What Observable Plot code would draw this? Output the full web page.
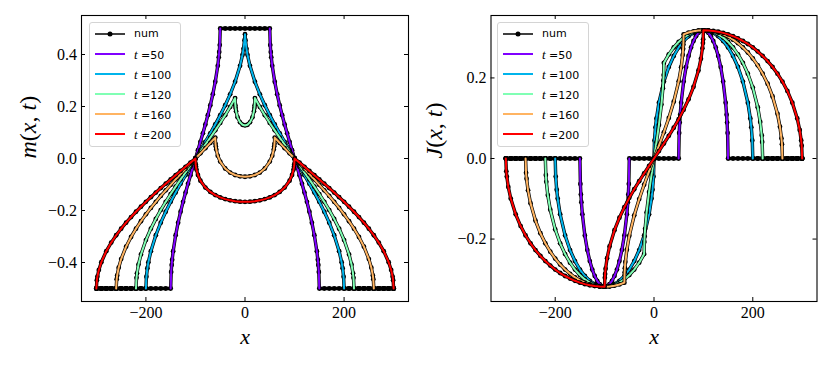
<!DOCTYPE html>
<html><head><meta charset="utf-8">
<script src="https://cdn.jsdelivr.net/npm/d3@7"></script>
<script src="https://cdn.jsdelivr.net/npm/@observablehq/plot@0.6"></script>
<style>
body{margin:0;background:#fff;}
#wrap{position:relative;width:830px;height:369px;overflow:hidden;background:#fff;}
.panel{position:absolute;top:0;}
.legend{position:absolute;width:92px;height:125px;border:1px solid #d4d4d4;border-radius:3px;background:rgba(255,255,255,0.85);box-sizing:border-box;}
.legend .row{position:absolute;left:0;width:90px;height:14px;}
.legend svg{position:absolute;left:4px;top:0;}
.legend span.lab{position:absolute;left:44px;top:0;font:11px "DejaVu Sans";line-height:14px;white-space:nowrap;color:#000;}
.legend i{font:italic 13px "Liberation Serif";}
</style></head><body><div id="wrap"></div>
<script>
// ---- data ----
const times = [50, 100, 120, 160, 200];
const colors = ["#8000ff", "#00b4eb", "#80ffb4", "#ffb462", "#ff0000"];
const supports = [[[-150, -50], [50, 150]], [[-200, 200]], [[-220, 220]], [[-260, 260]], [[-300, 300]]];
const xTicks = [-200, 0, 200];
const mTicks = [-0.4, -0.2, 0, 0.2, 0.4];
const jTicks = [-0.2, 0, 0.2];

// rows: [x, m(x,t), J(x,t)]
const t50 = [
[-300,-0.5,0],[-290,-0.5,0],[-280,-0.5,0],[-270,-0.5,0],[-260,-0.5,0],[-250,-0.5,0],[-240,-0.5,0],[-230,-0.5,0],[-220,-0.5,0],[-210,-0.5,0],[-200,-0.5,0],[-190,-0.5,0],[-180,-0.5,0],[-170,-0.5,0],[-160,-0.5,0],
[-150,-0.5,0],[-149,-0.4362,-0.0633],[-148,-0.4097,-0.0891],[-147,-0.3892,-0.1086],[-145,-0.3564,-0.1387],[-140,-0.2952,-0.1910],[-135,-0.2468,-0.2273],[-130,-0.2048,-0.2546],[-125,-0.1667,-0.2757],[-120,-0.1310,-0.2917],[-115,-0.0970,-0.3036],[-110,-0.0641,-0.3119],[-105,-0.0319,-0.3167],[-100,0,-0.3183],[-95,0.0319,-0.3167],[-90,0.0641,-0.3119],[-85,0.0970,-0.3036],[-80,0.1310,-0.2917],[-75,0.1667,-0.2757],[-70,0.2048,-0.2546],[-65,0.2468,-0.2273],[-60,0.2952,-0.1910],[-55,0.3564,-0.1387],[-53,0.3892,-0.1086],[-52,0.4097,-0.0891],[-51,0.4362,-0.0633],[-50,0.5,0],
[-40,0.5,0],[-30,0.5,0],[-20,0.5,0],[-10,0.5,0],[0,0.5,0],[10,0.5,0],[20,0.5,0],[30,0.5,0],[40,0.5,0],
[50,0.5,0],[51,0.4362,0.0633],[52,0.4097,0.0891],[53,0.3892,0.1086],[55,0.3564,0.1387],[60,0.2952,0.1910],[65,0.2468,0.2273],[70,0.2048,0.2546],[75,0.1667,0.2757],[80,0.1310,0.2917],[85,0.0970,0.3036],[90,0.0641,0.3119],[95,0.0319,0.3167],[100,0,0.3183],[105,-0.0319,0.3167],[110,-0.0641,0.3119],[115,-0.0970,0.3036],[120,-0.1310,0.2917],[125,-0.1667,0.2757],[130,-0.2048,0.2546],[135,-0.2468,0.2273],[140,-0.2952,0.1910],[145,-0.3564,0.1387],[147,-0.3892,0.1086],[148,-0.4097,0.0891],[149,-0.4362,0.0633],[150,-0.5,0],
[160,-0.5,0],[170,-0.5,0],[180,-0.5,0],[190,-0.5,0],[200,-0.5,0],[210,-0.5,0],[220,-0.5,0],[230,-0.5,0],[240,-0.5,0],[250,-0.5,0],[260,-0.5,0],[270,-0.5,0],[280,-0.5,0],[290,-0.5,0],[300,-0.5,0]
];
const t100 = [
[-300,-0.5,0],[-290,-0.5,0],[-280,-0.5,0],[-270,-0.5,0],[-260,-0.5,0],[-250,-0.5,0],[-240,-0.5,0],[-230,-0.5,0],[-220,-0.5,0],[-210,-0.5,0],
[-200,-0.5,0],[-199,-0.4549,-0.0449],[-197,-0.4218,-0.0774],[-195,-0.3989,-0.0994],[-190,-0.3564,-0.1387],[-180,-0.2952,-0.1910],[-170,-0.2468,-0.2273],[-160,-0.2048,-0.2546],[-150,-0.1667,-0.2757],[-140,-0.1310,-0.2917],[-130,-0.0970,-0.3036],[-120,-0.0641,-0.3119],[-110,-0.0319,-0.3167],[-100,0,-0.3183],[-90,0.0319,-0.3167],[-80,0.0641,-0.3119],[-70,0.0970,-0.3036],[-60,0.1310,-0.2917],[-50,0.1667,-0.2757],[-40,0.2048,-0.2546],[-30,0.2468,-0.2273],[-20,0.2952,-0.1910],[-10,0.3564,-0.1387],[-5,0.3989,-0.0994],[-3,0.4218,-0.0774],[-1,0.4549,-0.0449],
[0,0.478,0],
[1,0.4549,0.0449],[3,0.4218,0.0774],[5,0.3989,0.0994],[10,0.3564,0.1387],[20,0.2952,0.1910],[30,0.2468,0.2273],[40,0.2048,0.2546],[50,0.1667,0.2757],[60,0.1310,0.2917],[70,0.0970,0.3036],[80,0.0641,0.3119],[90,0.0319,0.3167],[100,0,0.3183],[110,-0.0319,0.3167],[120,-0.0641,0.3119],[130,-0.0970,0.3036],[140,-0.1310,0.2917],[150,-0.1667,0.2757],[160,-0.2048,0.2546],[170,-0.2468,0.2273],[180,-0.2952,0.1910],[190,-0.3564,0.1387],[195,-0.3989,0.0994],[197,-0.4218,0.0774],[199,-0.4549,0.0449],[200,-0.5,0],
[210,-0.5,0],[220,-0.5,0],[230,-0.5,0],[240,-0.5,0],[250,-0.5,0],[260,-0.5,0],[270,-0.5,0],[280,-0.5,0],[290,-0.5,0],[300,-0.5,0]
];
const t120 = [
[-300,-0.5,0],[-290,-0.5,0],[-280,-0.5,0],[-270,-0.5,0],[-260,-0.5,0],[-250,-0.5,0],[-240,-0.5,0],[-230,-0.5,0],
[-220,-0.5,0],[-219,-0.4589,-0.0410],[-218,-0.4418,-0.0579],[-215,-0.4078,-0.0909],[-210,-0.3691,-0.1272],[-200,-0.3136,-0.1760],[-190,-0.2699,-0.2105],[-180,-0.2323,-0.2373],[-170,-0.1982,-0.2585],[-160,-0.1667,-0.2757],[-150,-0.1368,-0.2894],[-140,-0.1082,-0.3001],[-130,-0.0804,-0.3082],[-120,-0.0533,-0.3139],[-110,-0.0266,-0.3172],[-100,0,-0.3183],[-90,0.0266,-0.3172],[-80,0.0533,-0.3139],[-70,0.0804,-0.3082],[-60,0.1082,-0.3001],[-50,0.1368,-0.2894],[-40,0.1667,-0.2757],[-30,0.1982,-0.2585],[-20,0.2323,-0.2373],[-19.5,0.2050,-0.2070],[-19,0.1947,-0.1938],[-18,0.1813,-0.1745],[-15,0.1583,-0.1338],[-10,0.1391,-0.0833],[-5,0.1299,-0.0404],
[0,0.1271,0],
[5,0.1299,0.0404],[10,0.1391,0.0833],[15,0.1583,0.1338],[18,0.1813,0.1745],[19,0.1947,0.1938],[19.5,0.2050,0.2070],[20,0.2323,0.2373],[30,0.1982,0.2585],[40,0.1667,0.2757],[50,0.1368,0.2894],[60,0.1082,0.3001],[70,0.0804,0.3082],[80,0.0533,0.3139],[90,0.0266,0.3172],[100,0,0.3183],[110,-0.0266,0.3172],[120,-0.0533,0.3139],[130,-0.0804,0.3082],[140,-0.1082,0.3001],[150,-0.1368,0.2894],[160,-0.1667,0.2757],[170,-0.1982,0.2585],[180,-0.2323,0.2373],[190,-0.2699,0.2105],[200,-0.3136,0.1760],[210,-0.3691,0.1272],[215,-0.4078,0.0909],[218,-0.4418,0.0579],[219,-0.4589,0.0410],[220,-0.5,0],
[230,-0.5,0],[240,-0.5,0],[250,-0.5,0],[260,-0.5,0],[270,-0.5,0],[280,-0.5,0],[290,-0.5,0],[300,-0.5,0]
];
const t160 = [
[-300,-0.5,0],[-290,-0.5,0],[-280,-0.5,0],[-270,-0.5,0],
[-260,-0.5,0],[-259,-0.4644,-0.0355],[-258,-0.4496,-0.0502],[-255,-0.4202,-0.0790],[-250,-0.3869,-0.1108],[-240,-0.3391,-0.1541],[-230,-0.3019,-0.1856],[-220,-0.2699,-0.2105],[-210,-0.2413,-0.2312],[-200,-0.2149,-0.2485],[-190,-0.1902,-0.2632],[-180,-0.1667,-0.2757],[-170,-0.1441,-0.2862],[-160,-0.1224,-0.2951],[-150,-0.1012,-0.3024],[-140,-0.0804,-0.3082],[-130,-0.0600,-0.3127],[-120,-0.0399,-0.3158],[-110,-0.0199,-0.3177],[-100,0,-0.3183],[-90,0.0199,-0.3177],[-80,0.0399,-0.3158],[-70,0.0600,-0.3127],[-60,0.0804,-0.3082],[-59.5,0.0563,-0.2828],[-59,0.0469,-0.2722],[-58,0.0342,-0.2570],[-55,0.0110,-0.2265],[-50,-0.0120,-0.1916],[-40,-0.0385,-0.1410],[-30,-0.0540,-0.1007],[-20,-0.0634,-0.0651],[-10,-0.0685,-0.0320],
[0,-0.0702,0],
[10,-0.0685,0.0320],[20,-0.0634,0.0651],[30,-0.0540,0.1007],[40,-0.0385,0.1410],[50,-0.0120,0.1916],[55,0.0110,0.2265],[58,0.0342,0.2570],[59,0.0469,0.2722],[59.5,0.0563,0.2828],[60,0.0804,0.3082],[70,0.0600,0.3127],[80,0.0399,0.3158],[90,0.0199,0.3177],[100,0,0.3183],[110,-0.0199,0.3177],[120,-0.0399,0.3158],[130,-0.0600,0.3127],[140,-0.0804,0.3082],[150,-0.1012,0.3024],[160,-0.1224,0.2951],[170,-0.1441,0.2862],[180,-0.1667,0.2757],[190,-0.1902,0.2632],[200,-0.2149,0.2485],[210,-0.2413,0.2312],[220,-0.2699,0.2105],[230,-0.3019,0.1856],[240,-0.3391,0.1541],[250,-0.3869,0.1108],[255,-0.4202,0.0790],[258,-0.4496,0.0502],[259,-0.4644,0.0355],[260,-0.5,0],
[270,-0.5,0],[280,-0.5,0],[290,-0.5,0],[300,-0.5,0]
];
const t200 = [
[-300,-0.5,0],[-299,-0.4682,-0.0318],[-298,-0.4549,-0.0449],[-295,-0.4287,-0.0707],[-290,-0.3989,-0.0994],[-280,-0.3564,-0.1387],[-270,-0.3234,-0.1677],[-260,-0.2952,-0.1910],[-250,-0.2699,-0.2105],[-240,-0.2468,-0.2273],[-230,-0.2252,-0.2419],[-220,-0.2048,-0.2546],[-210,-0.1854,-0.2658],[-200,-0.1667,-0.2757],[-190,-0.1486,-0.2843],[-180,-0.1310,-0.2917],[-170,-0.1138,-0.2982],[-160,-0.0970,-0.3036],[-150,-0.0804,-0.3082],[-140,-0.0641,-0.3119],[-130,-0.0479,-0.3147],[-120,-0.0319,-0.3167],[-110,-0.0159,-0.3179],[-100,0,-0.3183],[-99.5,-0.0217,-0.2958],[-99,-0.0303,-0.2865],[-98,-0.0419,-0.2734],[-95,-0.0634,-0.2475],[-90,-0.0852,-0.2185],[-80,-0.1117,-0.1780],[-70,-0.1287,-0.1470],[-60,-0.1407,-0.1209],[-50,-0.1496,-0.0977],[-40,-0.1562,-0.0763],[-30,-0.1610,-0.0563],[-20,-0.1642,-0.0371],[-10,-0.1661,-0.0184],
[0,-0.1667,0],
[10,-0.1661,0.0184],[20,-0.1642,0.0371],[30,-0.1610,0.0563],[40,-0.1562,0.0763],[50,-0.1496,0.0977],[60,-0.1407,0.1209],[70,-0.1287,0.1470],[80,-0.1117,0.1780],[90,-0.0852,0.2185],[95,-0.0634,0.2475],[98,-0.0419,0.2734],[99,-0.0303,0.2865],[99.5,-0.0217,0.2958],[100,0,0.3183],[110,-0.0159,0.3179],[120,-0.0319,0.3167],[130,-0.0479,0.3147],[140,-0.0641,0.3119],[150,-0.0804,0.3082],[160,-0.0970,0.3036],[170,-0.1138,0.2982],[180,-0.1310,0.2917],[190,-0.1486,0.2843],[200,-0.1667,0.2757],[210,-0.1854,0.2658],[220,-0.2048,0.2546],[230,-0.2252,0.2419],[240,-0.2468,0.2273],[250,-0.2699,0.2105],[260,-0.2952,0.1910],[270,-0.3234,0.1677],[280,-0.3564,0.1387],[290,-0.3989,0.0994],[295,-0.4287,0.0707],[298,-0.4549,0.0449],[299,-0.4682,0.0318],[300,-0.5,0]
];
const series = [t50, t100, t120, t160, t200];

// ---- drawing ----
const W = 415, H = 369, MT = 15, MB = 68;
function panel(col, yDomain, yTicks, ml, mr, label, labelDx) {
  const fw = W - ml - mr, fh = H - MT - MB;
  const marks = [];
  series.forEach((rows, i) => {
    const num = rows.map(r => ({x: r[0], v: r[col]}));
    const theory = [];
    supports[i].forEach((s, k) => rows.forEach(r => {
      if (r[0] >= s[0] && r[0] <= s[1]) theory.push({x: r[0], v: r[col], seg: k});
    }));
    marks.push(Plot.line(num, {x: "x", y: "v", stroke: "black", strokeWidth: 3.4}));
    marks.push(Plot.dot(num, {x: "x", y: "v", r: 2.4, fill: "black", stroke: "none"}));
    marks.push(Plot.line(theory, {x: "x", y: "v", z: "seg", stroke: colors[i], strokeWidth: 2}));
  });
  marks.push(Plot.frame({stroke: "black", strokeWidth: 1.1}));
  marks.push(Plot.tickX(xTicks, {x: d => d, insetTop: fh - 4, stroke: "black"}));
  marks.push(Plot.tickX(xTicks, {x: d => d, insetBottom: fh - 4, stroke: "black"}));
  marks.push(Plot.tickY(yTicks, {y: d => d, insetRight: fw - 4, stroke: "black"}));
  marks.push(Plot.tickY(yTicks, {y: d => d, insetLeft: fw - 4, stroke: "black"}));
  marks.push(Plot.axisX(xTicks, {tickSize: 0, tickPadding: 5, tickFormat: d3.format("d"), label: null}));
  marks.push(Plot.axisY(yTicks, {anchor: "left", tickSize: 0, tickPadding: 4.5, tickFormat: d3.format(".1f"), label: null}));
  marks.push(Plot.text(["x"], {text: d => d, frameAnchor: "bottom", dy: 42, lineAnchor: "bottom", fontSize: 22, fontStyle: "italic", fontFamily: "Liberation Serif"}));
  marks.push(Plot.text([label], {text: d => d, frameAnchor: "left", rotate: -90, dx: -labelDx, fontSize: 24, fontFamily: "Liberation Serif"}));
  const svg = Plot.plot({
    width: W, height: H, marginTop: MT, marginBottom: MB, marginLeft: ml, marginRight: mr,
    x: {domain: [-330, 330]}, y: {domain: yDomain},
    style: {fontFamily: "Liberation Serif", fontSize: "16px", color: "black", background: "transparent"},
    marks
  });
  d3.select(svg).selectAll("text").filter(function () { return this.textContent === label; })
    .html(label.replace(/([a-zA-Z])/g, '<tspan font-style="italic">$1</tspan>'));
  return svg;
}

function legend(left, top) {
  const box = document.createElement("div");
  box.className = "legend";
  box.style.left = left + "px";
  box.style.top = top + "px";
  const labels = ["num", ...times];
  labels.forEach((lab, i) => {
    const row = document.createElement("div");
    row.className = "row";
    row.style.top = (4 + 20 * i) + "px";
    const c = i === 0 ? "black" : colors[i - 1];
    const w = i === 0 ? 1.5 : 2;
    let s = `<svg width="32" height="14"><line x1="1" x2="31" y1="7" y2="7" stroke="${c}" stroke-width="${w}"/>`;
    if (i === 0) s += `<circle cx="16" cy="7" r="2.5" fill="black"/>`;
    s += `</svg>`;
    s += i === 0 ? `<span class="lab">num</span>` : `<span class="lab"><i>t</i> =${lab}</span>`;
    row.innerHTML = s;
    box.appendChild(row);
  });
  return box;
}

const wrap = document.getElementById("wrap");
const left = panel(1, [-0.55, 0.55], mTicks, 81, 7, "m(x, t)", 53);
left.classList.add("panel"); left.style.left = "0px";
const right = panel(2, [-0.355, 0.355], jTicks, 75.5, 13.5, "J(x, t)", 56.5);
right.classList.add("panel"); right.style.left = "415px";
wrap.appendChild(left);
wrap.appendChild(right);
wrap.appendChild(legend(89, 22));
wrap.appendChild(legend(497, 22));
</script>
</body></html>
